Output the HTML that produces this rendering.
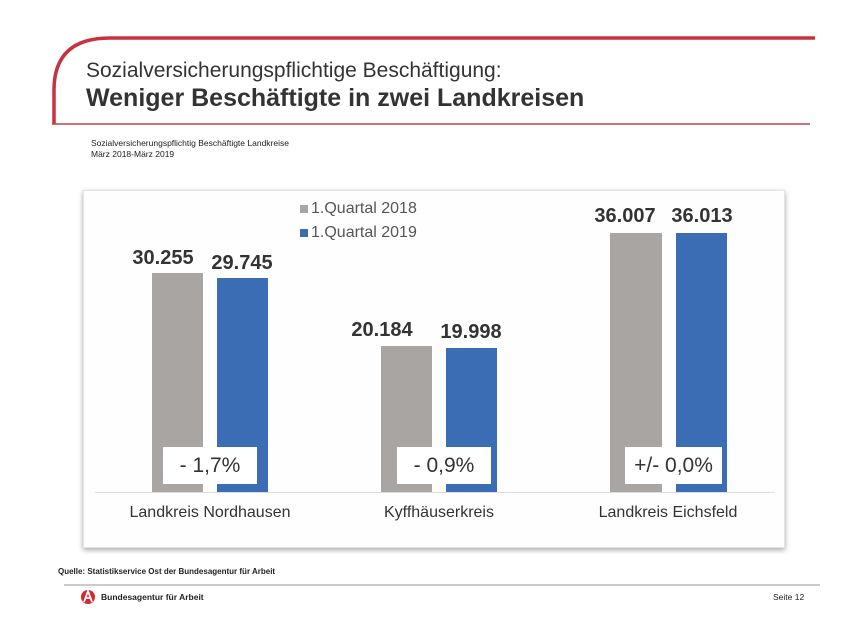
<!DOCTYPE html>
<html><head><meta charset="utf-8"><style>
body{margin:0;width:858px;height:623px;background:#fff;position:relative;overflow:hidden;font-family:"Liberation Sans",sans-serif;color:#222}
.a{position:absolute;white-space:nowrap}
.bar{position:absolute}
.g{background:#a8a5a3}.b{background:#3a6db4}
.v{position:absolute;font-weight:bold;font-size:20px;color:#333;text-align:center;width:80px}
.pb{position:absolute;background:#fff;font-size:21px;color:#333;text-align:center;height:37px;line-height:37px}
.cat{position:absolute;font-size:16px;color:#333;text-align:center;width:200px;top:504px}
</style></head><body>
<svg class="a" style="left:0;top:0" width="858" height="623">
<path d="M54,124 L54,90 Q54,38 110,38 L815,38" fill="none" stroke="#c8323c" stroke-width="3.5"/>
<line x1="52" y1="124" x2="810" y2="124" stroke="#c0404a" stroke-width="1.5"/>
<line x1="64" y1="585" x2="820" y2="585" stroke="#999" stroke-width="1"/>
<circle cx="88" cy="597" r="7" fill="#d8262e"/>
<path d="M84,602 L88,591 L92,602 M85.5,598 L90.5,598" stroke="#fff" stroke-width="1.8" fill="none"/>
</svg>
<div class="a" style="left:86px;top:59px;font-size:21px;color:#333">Sozialversicherungspflichtige Beschäftigung:</div>
<div class="a" style="left:86px;top:84px;font-size:25px;font-weight:bold;color:#333">Weniger Beschäftigte in zwei Landkreisen</div>
<div class="a" style="left:91px;top:138px;font-size:8.5px;line-height:11px">Sozialversicherungspflichtig Beschäftigte Landkreise<br>März 2018-März 2019</div>
<div class="a" style="left:83px;top:190px;width:700px;height:356px;background:#fefefe;box-shadow:0 2px 5px rgba(0,0,0,.35);border:1px solid #e4e4e4"></div>
<div class="a" style="left:95px;top:492px;width:680px;height:1px;background:#ddd"></div>
<div class="bar g" style="left:152px;top:273px;width:51px;height:219px"></div>
<div class="bar b" style="left:217px;top:278px;width:51px;height:214px"></div>
<div class="bar g" style="left:381px;top:346px;width:51px;height:146px"></div>
<div class="bar b" style="left:446px;top:348px;width:51px;height:144px"></div>
<div class="bar g" style="left:610px;top:233px;width:52px;height:259px"></div>
<div class="bar b" style="left:676px;top:233px;width:51px;height:259px"></div>
<div class="v" style="left:123px;top:247px">30.255</div>
<div class="v" style="left:202px;top:252px">29.745</div>
<div class="v" style="left:342px;top:319px">20.184</div>
<div class="v" style="left:431px;top:321px">19.998</div>
<div class="v" style="left:585px;top:205px">36.007</div>
<div class="v" style="left:662px;top:205px">36.013</div>
<div class="pb" style="left:163px;top:447px;width:94px">- 1,7%</div>
<div class="pb" style="left:397px;top:447px;width:94px">- 0,9%</div>
<div class="pb" style="left:625px;top:447px;width:97px">+/- 0,0%</div>
<div class="a" style="left:300px;top:200px;font-size:16px;color:#555"><span style="display:inline-block;width:8px;height:8px;background:#a8a5a3;margin-right:3px"></span>1.Quartal 2018</div>
<div class="a" style="left:300px;top:224px;font-size:16px;color:#555"><span style="display:inline-block;width:8px;height:8px;background:#3a6db4;margin-right:3px"></span>1.Quartal 2019</div>
<div class="cat" style="left:110px">Landkreis Nordhausen</div>
<div class="cat" style="left:339px">Kyffhäuserkreis</div>
<div class="cat" style="left:568px">Landkreis Eichsfeld</div>
<div class="a" style="left:58px;top:567px;font-size:8px;font-weight:bold">Quelle: Statistikservice Ost der Bundesagentur für Arbeit</div>
<div class="a" style="left:101px;top:592px;font-size:8.5px;font-weight:bold">Bundesagentur für Arbeit</div>
<div class="a" style="left:773px;top:592px;font-size:8.5px">Seite 12</div>
</body></html>
